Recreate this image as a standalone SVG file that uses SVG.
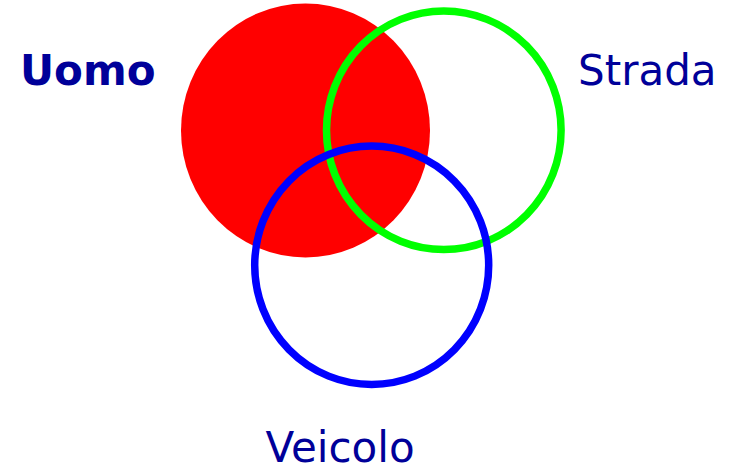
<svg xmlns="http://www.w3.org/2000/svg" width="732" height="466" viewBox="0 0 732 466">
<style>
.lbl{font-family:"DejaVu Sans","Verdana",sans-serif;font-size:42px;fill:#000099}
.ring{fill:none;stroke-width:7.5}
</style>
<rect width="732" height="466" fill="#ffffff"/>
<g id="uomo">
<ellipse cx="305.5" cy="130.5" rx="124.5" ry="127" fill="#ff0000"/>
<text class="lbl" x="20" y="85" font-weight="bold">Uomo</text>
</g>
<g id="strada">
<ellipse class="ring" cx="443.8" cy="130.3" rx="117.3" ry="119.3" stroke="#00ff00"/>
<text class="lbl" x="578" y="85">Strada</text>
</g>
<g id="veicolo">
<ellipse class="ring" cx="371.7" cy="265.3" rx="117" ry="119.2" stroke="#0000ff"/>
<text class="lbl" x="265.5" y="462">Veicolo</text>
</g>
<g id="connectors"></g>
</svg>
